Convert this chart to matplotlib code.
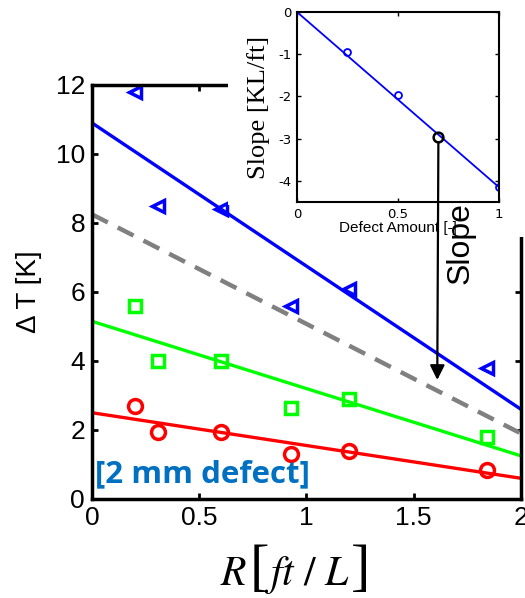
import matplotlib
matplotlib.use("Agg")
import matplotlib.pyplot as plt
from matplotlib.patches import Rectangle, ConnectionPatch

plt.rcParams['axes.unicode_minus'] = False
plt.rcParams['mathtext.fontset'] = 'stix'

# data
r_pts = [0.2, 0.31, 0.6, 0.93, 1.2, 1.84]
dt_blue = [11.8, 8.5, 8.4, 5.6, 6.1, 3.8]
dt_green = [5.6, 4.0, 4.0, 2.65, 2.9, 1.8]
dt_red = [2.7, 1.95, 1.95, 1.3, 1.4, 0.85]

fit_x = [0, 2]
fit_blue = [10.9, 2.6]
fit_gray = [8.25, 1.9]
fit_green = [5.15, 1.25]
fit_red = [2.5, 0.6]

defect = [0.25, 0.5, 1.0]
slope = [-0.95, -1.97, -4.15]
slope_fit_x = [0, 1]
slope_fit = [0, -4.15]
pick_defect = 0.7
pick_slope = -2.95
arrow_end = (1.61, 3.45)

W, H = 525, 598
fig = plt.figure(figsize=(W / 100, H / 100), dpi=100)


def px(x, y):
    # pixel position (from top-left) -> figure fraction
    return x / W, 1 - y / H


# main plot
ax = fig.add_axes([0.1752, 0.1656, 0.817, 0.6923])
ax.plot(fit_x, fit_blue, color='#0000ff', lw=2.4)
ax.plot(fit_x, fit_gray, color='#808080', lw=3.2, dashes=(4, 2.5))
ax.plot(fit_x, fit_green, color='#00ff00', lw=2.4)
ax.plot(fit_x, fit_red, color='#ff0000', lw=2.4)
ax.plot(r_pts, dt_blue, ls='none', marker='<', ms=8, mfc='none', mec='#0000ff', mew=2.5)
ax.plot(r_pts, dt_green, ls='none', marker='s', ms=8, mfc='none', mec='#00ff00', mew=2.5)
ax.plot(r_pts, dt_red, ls='none', marker='o', ms=10, mfc='none', mec='#ff0000', mew=2.5)

ax.set_xlim(0, 2)
ax.set_ylim(0, 12)
ax.set_xticks([0, 0.5, 1, 1.5, 2])
ax.set_xticklabels(['0', '0.5', '1', '1.5', '2'])
ax.set_yticks([0, 2, 4, 6, 8, 10, 12])
ax.tick_params(direction='in', top=True, right=True, width=2, length=4,
               labelsize=19, pad=5)
for lab in ax.get_xticklabels() + ax.get_yticklabels():
    lab.set_fontfamily('Liberation Sans')
for s in ax.spines.values():
    s.set_linewidth(2.5)
ax.set_ylabel(u'\u0394 T [K]', fontsize=20, family='Liberation Sans', labelpad=10)
ax.text(0.015, 0.72, '[2 mm defect]', color='#0070c0', fontsize=22.5,
        fontweight='bold', family='Open Sans', va='center')

# x label built from pieces so the brackets can be taller
fig.text(*px(220, 585), r'$R$', fontsize=30, va='baseline')
fig.text(*px(250, 584), '[', fontsize=42, family='Liberation Serif', va='baseline')
fig.text(*px(264, 585), r'$ft\ /\ L$', fontsize=30, va='baseline')
fig.text(*px(351, 584), ']', fontsize=42, family='Liberation Serif', va='baseline')

# white area where the inset was pasted
fig.patches.append(Rectangle((0.434, 0.657), 0.57, 0.35, transform=fig.transFigure,
                             facecolor='white', edgecolor='none', zorder=5))
fig.patches.append(Rectangle((0.962, 0.603), 0.04, 0.06, transform=fig.transFigure,
                             facecolor='white', edgecolor='none', zorder=5))

# inset
ins = fig.add_axes([0.5657, 0.6622, 0.3848, 0.3177], zorder=10)
ins.plot(slope_fit_x, slope_fit, color='#0000ff', lw=1.3)
ins.plot(defect, slope, ls='none', marker='o', ms=5, mfc='none', mec='#0000ff', mew=1.3)
ins.plot([pick_defect], [pick_slope], ls='none', marker='o', ms=7, mfc='none',
         mec='black', mew=1.8)
ins.set_xlim(0, 1)
ins.set_ylim(-4.5, 0)
ins.set_xticks([0, 0.5, 1])
ins.set_xticklabels(['0', '0.5', '1'])
ins.set_yticks([-4, -3, -2, -1, 0])
ins.set_yticklabels(['-4', '-3', '-2', '-1', '0'])
ins.tick_params(direction='in', top=True, right=True, width=1, length=3,
                labelsize=9.5, pad=4)
for s in ins.spines.values():
    s.set_linewidth(1.5)
ins.set_xlabel('Defect Amount [-]', fontsize=11, family='Liberation Sans', labelpad=0)
ins.set_ylabel('Slope [KL/ft]', fontsize=19, family='Liberation Serif', labelpad=6)

con = ConnectionPatch(xyA=(pick_defect, pick_slope), coordsA=ins.transData,
                      xyB=arrow_end, coordsB=ax.transData,
                      arrowstyle='-|>', mutation_scale=22, lw=1.6,
                      color='black', shrinkA=4, shrinkB=0, zorder=20)
fig.add_artist(con)
fig.text(*px(461, 243), 'Slope', rotation=90, fontsize=23, family='Liberation Sans',
         ha='center', va='center', zorder=20)

fig.savefig('out.png', dpi=100)
